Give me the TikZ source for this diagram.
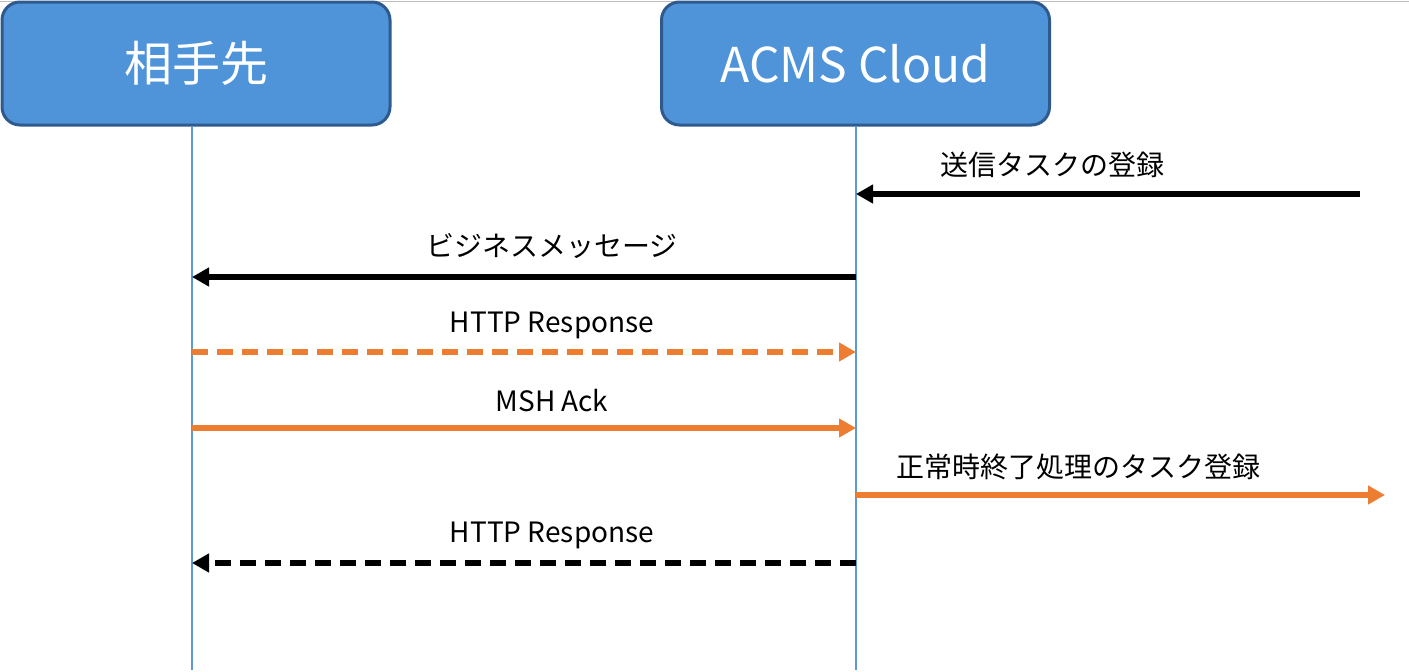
\documentclass[tikz,border=0pt]{standalone}
\usepackage{fontspec}
\setmainfont{Noto Sans CJK JP}
\usetikzlibrary{arrows.meta}
\definecolor{boxfill}{HTML}{4F93D9}
\definecolor{boxline}{HTML}{2E5A8E}
\definecolor{life}{HTML}{5B9BD5}
\definecolor{org}{HTML}{ED7D31}
\begin{document}
\begin{tikzpicture}[x=1pt,y=-1pt,
  actor/.style={draw=boxline,line width=3pt,fill=boxfill,rounded corners=18pt,minimum width=388pt,minimum height=123pt,text=white,font=\fontsize{48}{56}\selectfont},
  lifeline/.style={draw=life,line width=1.3pt},
  msg/.style={line width=5.5pt,-{Triangle[length=17pt,width=18pt]}},
  lbl/.style={font=\fontsize{28}{32}\selectfont,anchor=center}]
\useasboundingbox (0,0) rectangle (1409,672);
\draw[gray!50,line width=1pt] (0,1) -- (1409,1);
\node[actor] (a) at (196,63.5) {相手先};
\node[actor] (b) at (855.5,63.5) {ACMS Cloud};
\coordinate (aE) at (192,670);
\coordinate (bE) at (856,670);
\draw[lifeline] (192,126) -- (aE);
\draw[lifeline] (856,126) -- (bE);
\coordinate (a2) at (192,277); \coordinate (b2) at (856,277);
\coordinate (a3) at (192,352); \coordinate (b3) at (856,352);
\coordinate (a4) at (192,428); \coordinate (b4) at (856,428);
\coordinate (a6) at (192,563); \coordinate (b6) at (856,563);
\coordinate (b1) at (856,194); \coordinate (x1) at (1360,194);
\coordinate (b5) at (856,495); \coordinate (x5) at (1385,495);
\draw[msg] (x1) -- (b1);
\node[lbl] at (1052,165) {送信タスクの登録};
\draw[msg] (b2) -- (a2);
\node[lbl] at (552,246) {ビジネスメッセージ};
\draw[msg,org,dash pattern=on 16pt off 9pt] (a3) -- (b3);
\node[lbl] at (552,325) {HTTP Response};
\draw[msg,org] (a4) -- (b4);
\node[lbl] at (552,401) {MSH Ack};
\draw[msg,org] (b5) -- (x5);
\node[lbl] at (1078,467) {正常時終了処理のタスク登録};
\draw[msg,dash pattern=on 16pt off 9pt] (b6) -- (a6);
\node[lbl] at (552,535) {HTTP Response};
\end{tikzpicture}
\end{document}
